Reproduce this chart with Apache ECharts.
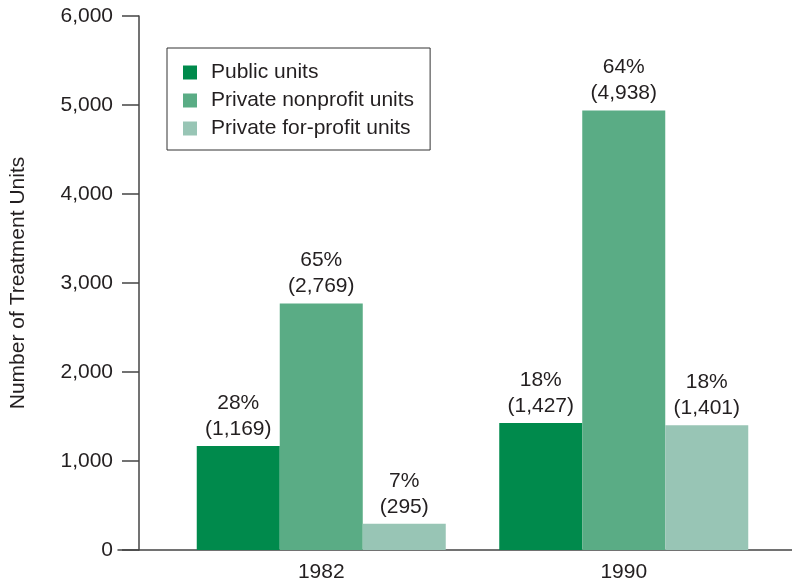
<!DOCTYPE html>
<html>
<head>
<meta charset="utf-8" />
<title>Treatment units</title>
<script src="https://cdn.jsdelivr.net/npm/echarts@6/dist/echarts.min.js"></script>
<style>
  html, body { margin: 0; padding: 0; background: #fff; }
  #main { width: 792px; height: 584px; }
</style>
</head>
<body>
<div id="main"></div>
<script>
  // data
  var years = ['1982', '1990'];
  var publicUnits = [1169, 1427];
  var nonprofitUnits = [2769, 4938];
  var forprofitUnits = [295, 1401];
  var publicPct = [28, 18];
  var nonprofitPct = [65, 64];
  var forprofitPct = [7, 18];
  var yTicks = [0, 1000, 2000, 3000, 4000, 5000, 6000];

  var font = '"Liberation Sans", Arial, Helvetica, sans-serif';
  var ink = '#231f20';

  function fmt(n) {
    return n.toLocaleString('en-US');
  }

  function makeSeries(name, values, pcts, color) {
    return {
      name: name,
      type: 'bar',
      xAxisIndex: 0,
      yAxisIndex: 0,
      barWidth: 83,
      barGap: '0%',
      itemStyle: { color: color },
      label: {
        show: true,
        position: 'top',
        distance: 4,
        fontFamily: font,
        fontSize: 21,
        lineHeight: 26,
        color: ink,
        formatter: function (p) {
          return pcts[p.dataIndex] + '%\n(' + fmt(p.value) + ')';
        }
      },
      data: values
    };
  }

  var chart = echarts.init(document.getElementById('main'));
  chart.setOption({
    animation: false,
    textStyle: { fontFamily: font },
    grid: [
      { left: 167, right: 17, top: 16, bottom: 34 },
      { left: 118, right: 0, top: 16, bottom: 34 }
    ],
    legend: {
      orient: 'vertical',
      left: 167,
      top: 48,
      padding: [14, 16, 11, 16],
      borderColor: '#333',
      borderWidth: 1,
      itemWidth: 14,
      itemHeight: 14,
      itemGap: 7,
      icon: 'rect',
      textStyle: { fontFamily: font, fontSize: 21, lineHeight: 21, color: ink, padding: [0, 0, 0, 9] },
      data: ['Public units', 'Private nonprofit units', 'Private for-profit units']
    },
    xAxis: [
      {
        type: 'category',
        gridIndex: 0,
        data: years,
        axisLine: { show: false },
        axisTick: { show: false },
        axisLabel: { fontSize: 21, color: ink, margin: 12 }
      },
      {
        type: 'category',
        gridIndex: 1,
        data: [''],
        axisLine: { show: true, lineStyle: { color: '#444', width: 1.5 } },
        axisTick: { show: false },
        axisLabel: { show: false }
      }
    ],
    yAxis: [
      {
        type: 'value',
        gridIndex: 0,
        min: yTicks[0],
        max: yTicks[yTicks.length - 1],
        interval: 1000,
        offset: 31,
        name: 'Number of Treatment Units',
        nameLocation: 'middle',
        nameGap: 110,
        nameTextStyle: { fontSize: 21, color: ink },
        splitLine: { show: false },
        axisLine: { show: true, lineStyle: { color: '#444', width: 1.5 } },
        axisTick: { show: true, inside: false, length: 17, lineStyle: { color: '#444', width: 1.5 } },
        axisLabel: {
          fontSize: 21,
          color: ink,
          margin: 26,
          formatter: function (v) { return fmt(v); }
        }
      },
      {
        type: 'value',
        gridIndex: 1,
        show: false
      }
    ],
    series: [
      makeSeries('Public units', publicUnits, publicPct, '#008a4c'),
      makeSeries('Private nonprofit units', nonprofitUnits, nonprofitPct, '#5aac85'),
      makeSeries('Private for-profit units', forprofitUnits, forprofitPct, '#98c5b5')
    ]
  });
</script>
</body>
</html>
